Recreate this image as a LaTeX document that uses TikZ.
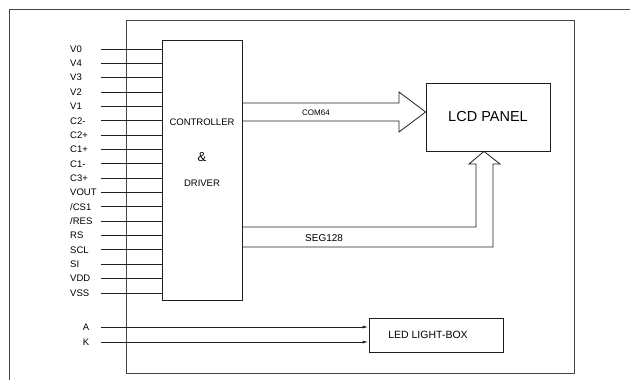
\documentclass[tikz,border=0pt]{standalone}
\usepackage{fontspec}
\setmainfont{Liberation Sans}
\usetikzlibrary{arrows.meta, positioning, calc}
\definecolor{LineGray}{RGB}{30, 30, 30}
\definecolor{FrameGray}{RGB}{70, 70, 70}

\begin{document}
\begin{tikzpicture}[
    x=1pt, y=-1pt,
    every node/.style={font=\fontsize{9.5}{11}\selectfont, inner sep=0pt},
    pinlabel/.style={anchor=west},
    blockbox/.style={rectangle, draw=LineGray, line width=0.8pt, fill=white},
    pinwire/.style={draw=LineGray, line width=0.9pt},
    busarrow/.style={draw=LineGray, line width=0.8pt, line join=miter},
    ledwire/.style={-{Latex[length=6pt, width=3pt]}, draw=LineGray, line width=0.9pt}
  ]
    \useasboundingbox (0,0) rectangle (630,380);

    % Frames
    \draw[FrameGray, line width=1pt] (9,380) |- (630,9);
    \draw[FrameGray, line width=1pt] (126,20) rectangle (574,373);

    % Blocks
    \node[blockbox, minimum width=80pt, minimum height=260pt] (ctrl) at (202,170) {};
    \node (ctrl_top) at (202,122) {CONTROLLER};
    \node[font=\fontsize{13}{15}\selectfont] (ctrl_amp) at (202,157) {\&};
    \node (ctrl_bot) at (202,183) {DRIVER};
    \node[blockbox, minimum width=124pt, minimum height=68pt, font=\fontsize{14.5}{17}\selectfont] (lcd) at (488,117) {LCD PANEL};
    \node[blockbox, minimum width=134pt, minimum height=34pt, font=\fontsize{10.5}{12}\selectfont] (led) at (436,335) {\hspace*{-16pt}LED LIGHT-BOX};

    % Pins of the controller
    \foreach \name [count=\i from 0] in {V0, V4, V3, V2, V1, C2-, C2+, C1+, C1-, C3+, VOUT, /CS1, /RES, RS, SCL, SI, VDD, VSS} {
      \node[pinlabel] (pin\i) at (70, 49+14.35*\i) {\name};
      \coordinate (p\i) at (101, 49+14.35*\i);
      \draw[pinwire] (p\i) -- (p\i -| ctrl.west);
    }

    % LED inputs
    \node (pinA) at (86,327) {A};
    \node (pinK) at (86,342) {K};
    \coordinate (pa) at (101,327);
    \coordinate (pk) at (101,342);
    \draw[ledwire] (pa) -- (pa -| led.west);
    \draw[ledwire] (pk) -- (pk -| led.west);

    % COM bus
    \draw[busarrow] (ctrl.east |- 0,103) -- (399,103) -- (399,92) -- (lcd.west |- 0,112)
      -- (399,132) -- (399,121) -- (ctrl.east |- 0,121);
    \node[font=\fontsize{8}{10}\selectfont, anchor=west] (com) at (302,113) {COM64};

    % SEG bus
    \draw[busarrow] (ctrl.east |- 0,227) -- (476,227) -- (476,164) -- (469,164) -- (lcd.south -| 484,0)
      -- (500,164) -- (493,164) -- (493,247) -- (ctrl.east |- 0,247);
    \node[font=\fontsize{10}{12}\selectfont, anchor=west] (seg) at (305,238) {SEG128};
  \end{tikzpicture}
\end{document}
